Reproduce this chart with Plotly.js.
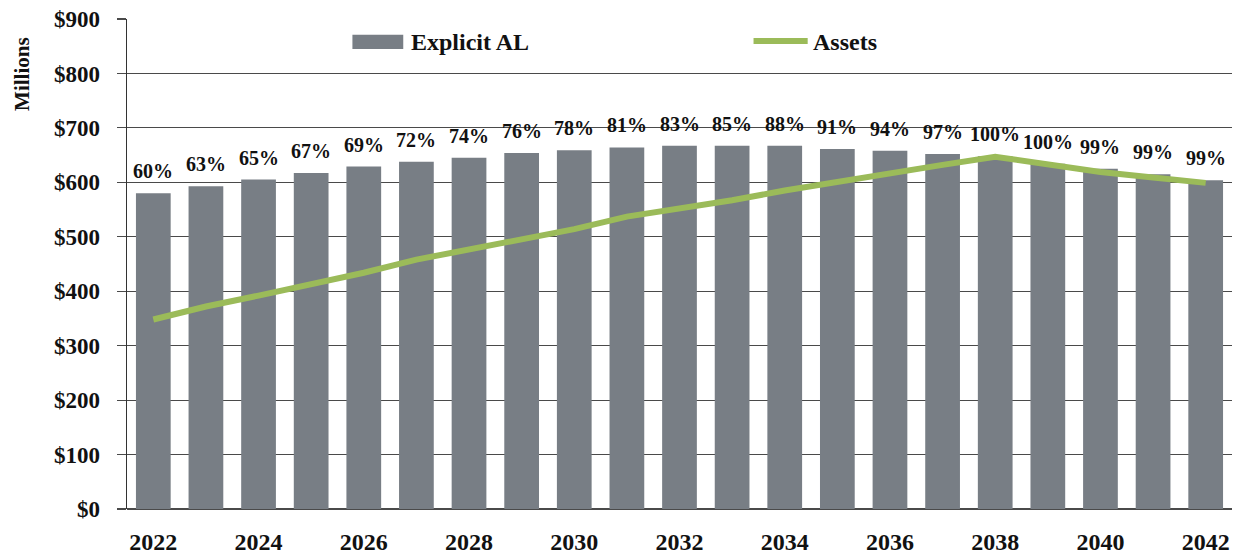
<!DOCTYPE html>
<html><head><meta charset="utf-8">
<script src="https://cdn.plot.ly/plotly-3.0.1.min.js"></script>
<style>html,body{margin:0;padding:0;background:#fff}#chart{width:1242px;height:559px}</style>
</head><body><div id="chart"></div>
<script>
const years = ["2022","2023","2024","2025","2026","2027","2028","2029","2030","2031","2032","2033","2034","2035","2036","2037","2038","2039","2040","2041","2042"];
const explicitAL = [580,593,605,617,629,638,645,654,659,664,667,667,667,661,658,652,648,634,625,615,604];
const assets = [348,372,392,413,434,458,477,497,514,537,552,567,585,601,618,632,647,634,619,609,599];
const fundedPct = ["60%","63%","65%","67%","69%","72%","74%","76%","78%","81%","83%","85%","88%","91%","94%","97%","100%","100%","99%","99%","99%"];
const xTickYears = ["2022","2024","2026","2028","2030","2032","2034","2036","2038","2040","2042"];
const yTickVals = [0,100,200,300,400,500,600,700,800,900];
const yTickText = ["$0","$100","$200","$300","$400","$500","$600","$700","$800","$900"];
const yTitle = "Millions";

const serif = "'Liberation Serif', 'Times New Roman', serif";
const barColor = "#787e85";
const lineColor = "#9bbb59";

const traces = [
  {type:"bar", name:"Explicit AL", x:years, y:explicitAL, marker:{color:barColor}, width:0.66, hoverinfo:"x+y"},
  {type:"scatter", mode:"lines", name:"Assets", x:years, y:assets, line:{color:lineColor, width:6}}
];

const annotations = years.map((yr,i)=>({
  xref:"x", yref:"y", x:i, y:explicitAL[i], text:fundedPct[i], showarrow:false, yshift:22,
  font:{family:serif, size:20, color:"#111", weight:"bold"}
}));
annotations.push({xref:"paper", yref:"paper", x:0.255, y:0.953, xanchor:"left", yanchor:"middle", text:"Explicit AL", showarrow:false, font:{family:serif,size:24,color:"#111",weight:"bold"}});
annotations.push({xref:"paper", yref:"paper", x:0.619, y:0.953, xanchor:"left", yanchor:"middle", text:"Assets", showarrow:false, font:{family:serif,size:24,color:"#111",weight:"bold"}});
annotations.push({xref:"paper", yref:"paper", x:-0.095, y:0.888, xanchor:"center", yanchor:"middle", textangle:-90, text:yTitle, showarrow:false, font:{family:serif,size:21,color:"#111",weight:"bold"}});

const shapes = [
  {type:"rect", xref:"paper", yref:"paper", x0:0.204, x1:0.250, y0:0.939, y1:0.968, fillcolor:barColor, line:{width:0}},
  {type:"line", xref:"paper", yref:"paper", x0:0.567, x1:0.616, y0:0.955, y1:0.955, line:{color:lineColor, width:6}}
];

const layout = {
  width:1242, height:559,
  margin:{l:127, r:10, t:19, b:50},
  paper_bgcolor:"#fff", plot_bgcolor:"#fff",
  showlegend:false,
  font:{family:serif, color:"#111"},
  xaxis:{
    type:"category", range:[-0.5,20.5], tickmode:"array", tickvals:xTickYears, ticktext:xTickYears,
    showgrid:false, showline:false, ticks:"", zeroline:false,
    tickfont:{family:serif, size:24, color:"#111", weight:"bold"}, ticklabelstandoff:16
  },
  yaxis:{
    range:[0,900], tickmode:"array", tickvals:yTickVals, ticktext:yTickText,
    showgrid:true, gridcolor:"#4a4a4a", gridwidth:1.2,
    zeroline:true, zerolinecolor:"#4a4a4a", zerolinewidth:1.2,
    showline:true, linecolor:"#333", linewidth:1.5,
    ticks:"outside", ticklen:9, tickcolor:"#4a4a4a", tickwidth:1.2,
    tickfont:{family:serif, size:23, color:"#111", weight:"bold"}, ticklabelstandoff:12
  },
  annotations, shapes
};

Plotly.newPlot("chart", traces, layout, {displayModeBar:false, staticPlot:true});
</script></body></html>
